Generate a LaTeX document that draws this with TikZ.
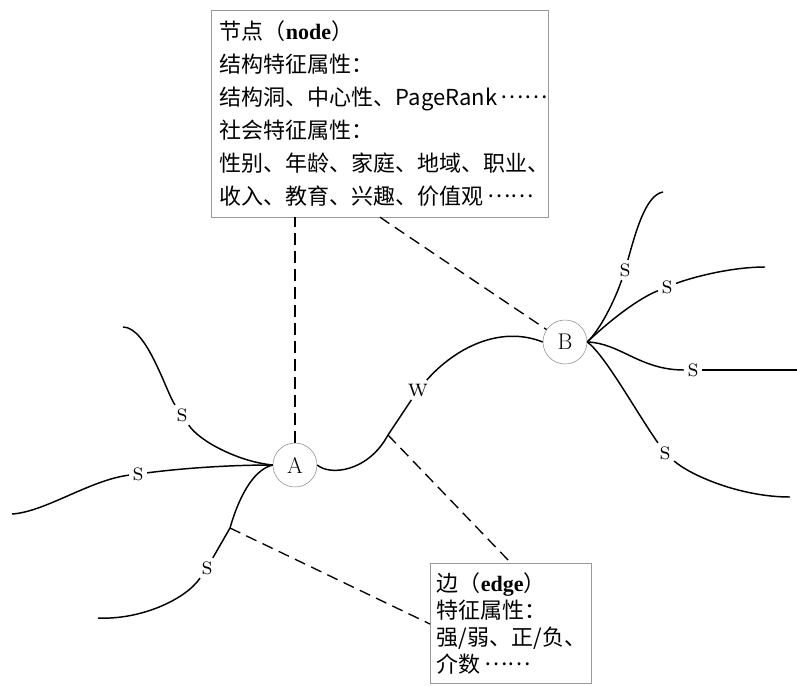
\documentclass[tikz,border=0pt]{standalone}
\usepackage{fontspec}
\newfontfamily\cjk{Noto Sans CJK SC}
\newfontfamily\boldserif{Liberation Serif}
\usetikzlibrary{calc}

\newcommand{\middots}{\,\raisebox{0.3em}{……}}

\begin{document}
\begin{tikzpicture}[x=0.75pt, y=-0.75pt,
      node_circle/.style ={circle, draw=gray!90, thin, fill=white,
        minimum size=33pt, inner sep=0pt,
        font=\fontsize{17}{17}\selectfont},
      block_info/.style ={rectangle, draw=gray!80, thin, fill=white,
        anchor=north west, align=left, inner xsep=6.5pt,
        font=\cjk\fontsize{16.5}{24.75}\selectfont},
      tie_label/.style ={inner sep=2.5pt,
        font=\scshape\fontsize{18}{18}\selectfont},
      tie/.style ={draw, line width=1.1pt},
      link/.style ={draw, line width=1pt, dash pattern=on 8.5pt off 5pt}]
    %
    \useasboundingbox (0,0) rectangle (797,686);
    \clip (0,0) rectangle (797,686);
    %
    % 1. the two boxes and the two persons
    \node [block_info, text width=240pt, minimum height=155pt] (nodebox) at (211,10)
      {节点（{\boldserif\bfseries node}）\\
       结构特征属性：\\
       结构洞、中心性、PageRank\middots\\
       社会特征属性：\\
       性别、年龄、家庭、地域、职业、\\
       收入、教育、兴趣、价值观\middots};
    \node [block_info, text width=111pt, inner xsep=5pt, inner ysep=7pt,
      font=\cjk\fontsize{16.5}{20.25}\selectfont] (edgebox) at (430,563)
      {边（{\boldserif\bfseries edge}）\\
       特征属性：\\
       强/弱、正/负、\\
       介数\middots};
    \node [node_circle] (A) at (295,465) {A};
    \node [node_circle] (B) at (565,342) {B};
    %
    % labels on the ties
    \node [tie_label] (s1) at (182,415) {s};
    \node [tie_label] (s2) at (138,474) {s};
    \node [tie_label] (s3) at (207,568) {s};
    \node [tie_label] (s4) at (625,270) {s};
    \node [tie_label] (s5) at (667,287) {s};
    \node [tie_label] (s6) at (693,370) {s};
    \node [tie_label] (s7) at (665,453) {s};
    \node [tie_label] (w) at (418,390) {w};
    %
    % loose ends and branch points
    \coordinate (la1) at (123,327);
    \coordinate (la2) at (12,514);
    \coordinate (la3) at (98,618);
    \coordinate (lb1) at (663,192);
    \coordinate (lb2) at (765,267);
    \coordinate (lb3) at (797,370);
    \coordinate (lb4) at (790,497);
    \coordinate (ea) at (230,528);
    \coordinate (eb) at (388,435);
    \path (edgebox.north west) ++(0,61) coordinate (ee);
    %
    % 2. connecting with ties
    \begin{scope}[every path/.style=tie]
      % ties of A
      \path (A.west) .. controls (240,462) and (200,442) .. (s1);
      \path (s1) .. controls (166,392) and (147,327) .. (la1);
      \path (A.west) .. controls (230,465) and (185,468) .. (s2);
      \path (s2) .. controls (90,480) and (45,512) .. (la2);
      \path (A.west) .. controls (252,470) and (238,500) .. (ea);
      \path (ea) -- (s3);
      \path (s3) .. controls (185,600) and (140,620) .. (la3);
      % tie between A and B
      \path (A.east) .. controls (330,476) and (368,472) .. (eb);
      \path (eb) -- (w);
      \path (w) .. controls (455,348) and (500,325) .. (B.west);
      % ties of B
      \path (B.east) .. controls (600,330) and (615,300) .. (s4);
      \path (s4) .. controls (635,235) and (645,195) .. (lb1);
      \path (B.east) .. controls (605,325) and (635,300) .. (s5);
      \path (s5) .. controls (690,278) and (730,267) .. (lb2);
      \path (B.east) .. controls (620,343) and (640,370) .. (s6);
      \path (s6) -- (lb3);
      \path (B.east) .. controls (605,355) and (635,410) .. (s7);
      \path (s7) .. controls (690,475) and (740,497) .. (lb4);
    \end{scope}
    %
    % 3. dashed links to the boxes
    \begin{scope}[every path/.style=link]
      \path (A.north) -- (A.north |- nodebox.south);
      \path (nodebox.south) -- (B);
      \path (eb) -- (edgebox.north);
      \path (ea) -- (ee);
    \end{scope}
\end{tikzpicture}
\end{document}
